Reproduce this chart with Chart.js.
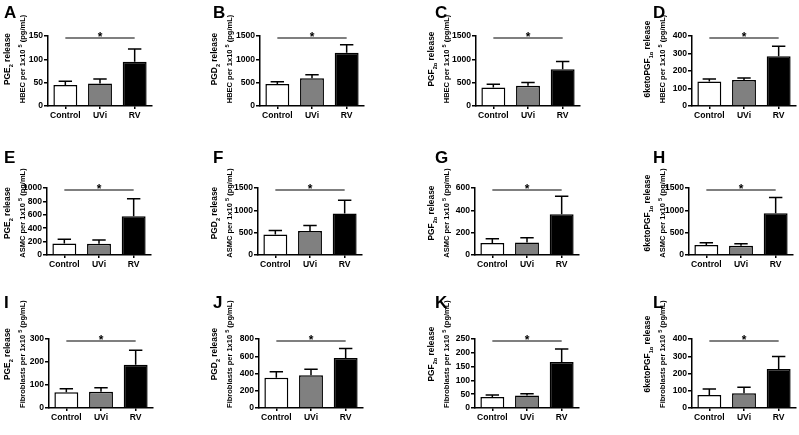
<!DOCTYPE html>
<html><head><meta charset="utf-8">
<script src="https://cdn.jsdelivr.net/npm/chart.js@4.4.1/dist/chart.umd.min.js"></script>
<style>
html,body{margin:0;padding:0;background:#fff;}
#wrap{position:relative;width:799px;height:435px;overflow:hidden;background:#fff;font-family:"Liberation Sans",Arial,sans-serif;}
canvas{position:absolute;}
.letter{position:absolute;font-weight:bold;font-size:17px;line-height:17px;color:#000;}
.ytitle{position:absolute;width:150px;height:30px;font-weight:bold;text-align:center;color:#000;transform:rotate(-90deg);white-space:nowrap;}
.ytitle .l1,.ytitle .l2{display:block;height:15px;line-height:15px;overflow:visible;}
.ytitle .l1{font-size:8.4px;}
.ytitle .l2{font-size:7.5px;}
.ytitle sub,.ytitle sup{font-size:5.6px;line-height:0;}
</style></head><body>
<div id="wrap"></div>
<script>
// ---- data ----
const categories = ['Control', 'UVi', 'RV'];
const barColors = ['#ffffff', '#808080', '#000000'];
// HBEC
const meanA = [45, 48, 95];     const errA = [53, 58, 122];
const meanB = [472, 595, 1142]; const errB = [520, 672, 1312];
const meanC = [398, 435, 785];  const errC = [465, 505, 955];
const meanD = [140, 148, 285];  const errD = [154, 160, 342];
// ASMC
const meanE = [173, 168, 578];  const errE = [236, 224, 840];
const meanF = [458, 535, 928];  const errF = [550, 658, 1225];
const meanG = [107, 113, 365];  const errG = [146, 154, 526];
const meanH = [222, 208, 935];  const errH = [275, 252, 1285];
// Fibroblasts
const meanI = [68, 71, 188];    const errI = [84, 88, 251];
const meanJ = [352, 379, 580];  const errJ = [421, 448, 690];
const meanK = [40, 45, 167];    const errK = [47, 52, 214];
const meanL = [75, 85, 226];    const errL = [110, 120, 298];
// y-axis ranges
const axisMax  = [150, 1500, 1500, 400, 1000, 1500, 600, 1500, 300, 800, 250, 400];
const axisStep = [50, 500, 500, 100, 200, 500, 200, 500, 100, 200, 50, 100];
const panelLetters = ['A','B','C','D','E','F','G','H','I','J','K','L'];
const titleLine1 = [
  'PGE<sub>2</sub> release','PGD<sub>2</sub> release','PGF<sub>2α</sub> release','6ketoPGF<sub>1α</sub> release',
  'PGE<sub>2</sub> release','PGD<sub>2</sub> release','PGF<sub>2α</sub> release','6ketoPGF<sub>1α</sub> release',
  'PGE<sub>2</sub> release','PGD<sub>2</sub> release','PGF<sub>2α</sub> release','6ketoPGF<sub>1α</sub> release'];
const cellTypes = ['HBEC','ASMC','Fibroblasts'];

const means = [meanA,meanB,meanC,meanD,meanE,meanF,meanG,meanH,meanI,meanJ,meanK,meanL];
const errs  = [errA,errB,errC,errD,errE,errF,errG,errH,errI,errJ,errK,errL];

// ---- layout ----
const colX = [0, 200, 400, 600];
const colW = [200, 200, 200, 199];
const rowY = [0, 145, 290];
const axisLeft = [[48, 260, 476, 692], [47, 258, 475, 689], [49, 259, 475, 692]];
const plotW = 104;
const plotTop = [36, 188, 339];
const plotBottom = [106, 255, 408];
const titleCX = [15, 222, 439, 655];
const titleCY = [59, 213, 354];
const XAXIS_H = 20;

const FONT = '"Liberation Sans", Arial, sans-serif';

const errPlugin = {
  id: 'errSig',
  afterDatasetsDraw(chart, args, opts) {
    const ctx = chart.ctx;
    const y = chart.scales.y;
    const meta = chart.getDatasetMeta(0);
    ctx.save();
    ctx.strokeStyle = '#000';
    ctx.lineWidth = 1.5;
    meta.data.forEach((bar, i) => {
      const ey = y.getPixelForValue(opts.err[i]);
      const half = bar.width * 0.28;
      ctx.beginPath();
      ctx.moveTo(bar.x, bar.y);
      ctx.lineTo(bar.x, ey);
      ctx.moveTo(bar.x - half, ey);
      ctx.lineTo(bar.x + half, ey);
      ctx.stroke();
    });
    // significance bar Control vs RV
    const x0 = meta.data[0].x, x2 = meta.data[2].x, x1 = meta.data[1].x;
    const ly = chart.chartArea.top + 2;
    ctx.lineWidth = 1.2;
    ctx.beginPath();
    ctx.moveTo(x0, ly); ctx.lineTo(x2, ly); ctx.stroke();
    ctx.fillStyle = '#000';
    ctx.font = 'bold 12px ' + FONT;
    ctx.textAlign = 'center';
    ctx.textBaseline = 'alphabetic';
    ctx.fillText('*', x1, ly + 2.5);
    ctx.restore();
  }
};

const wrap = document.getElementById('wrap');
for (let p = 0; p < 12; p++) {
  const r = Math.floor(p / 4), c = p % 4;
  const cv = document.createElement('canvas');
  cv.width = colW[c]; cv.height = 145;
  cv.style.left = colX[c] + 'px'; cv.style.top = rowY[r] + 'px';
  cv.style.width = colW[c] + 'px'; cv.style.height = '145px';
  wrap.appendChild(cv);
  const localLeft = axisLeft[r][c] - colX[c];
  const localTop = plotTop[r] - rowY[r];
  const localBottom = plotBottom[r] - rowY[r];
  const padRight = colW[c] - (localLeft + plotW);
  const padBottom = 145 - localBottom - XAXIS_H;

  new Chart(cv.getContext('2d'), {
    type: 'bar',
    data: {
      labels: categories,
      datasets: [{
        data: means[p],
        backgroundColor: barColors,
        borderColor: '#000',
        borderWidth: 1.5,
        barPercentage: 0.69,
        categoryPercentage: 1.0
      }]
    },
    options: {
      responsive: false,
      animation: false,
      devicePixelRatio: 1,
      layout: { padding: { left: 0, right: padRight, top: localTop, bottom: padBottom } },
      plugins: { legend: { display: false }, tooltip: { enabled: false }, errSig: { err: errs[p] } },
      scales: {
        x: {
          type: 'category',
          offset: true,
          grid: { display: true, drawOnChartArea: false, drawTicks: true, tickLength: 3, color: '#000', lineWidth: 1.5, offset: false },
          border: { display: true, color: '#000', width: 1.5 },
          ticks: { color: '#000', font: { family: FONT, size: 8.6, weight: 'bold' }, padding: 1, maxRotation: 0, autoSkip: false },
          afterFit(s) { s.height = XAXIS_H; }
        },
        y: {
          min: 0, max: axisMax[p],
          grid: { display: true, drawOnChartArea: false, drawTicks: true, tickLength: 4, color: '#000', lineWidth: 1.5 },
          border: { display: true, color: '#000', width: 1.5 },
          ticks: { stepSize: axisStep[p], color: '#000', font: { family: FONT, size: 8.6, weight: 'bold' }, padding: 1,
                   callback: v => String(v) },
          afterFit(s) { s.width = localLeft; }
        }
      }
    },
    plugins: [errPlugin]
  });

  const L = document.createElement('div');
  L.className = 'letter';
  L.textContent = panelLetters[p];
  L.style.left = (colX[c] + (c === 0 ? 4 : c === 1 ? 13 : c === 2 ? 35 : 53)) + 'px';
  L.style.top = (rowY[r] + 4) + 'px';
  wrap.appendChild(L);

  const T = document.createElement('div');
  T.className = 'ytitle';
  T.innerHTML = '<div class="l1">' + titleLine1[p] + '</div><div class="l2">' + cellTypes[r] + ' per 1x10 <sup>5</sup> (pg/mL)</div>';
  T.style.left = (titleCX[c] - 75) + 'px';
  T.style.top = (titleCY[r] - 15) + 'px';
  wrap.appendChild(T);
}
</script>
</body></html>
